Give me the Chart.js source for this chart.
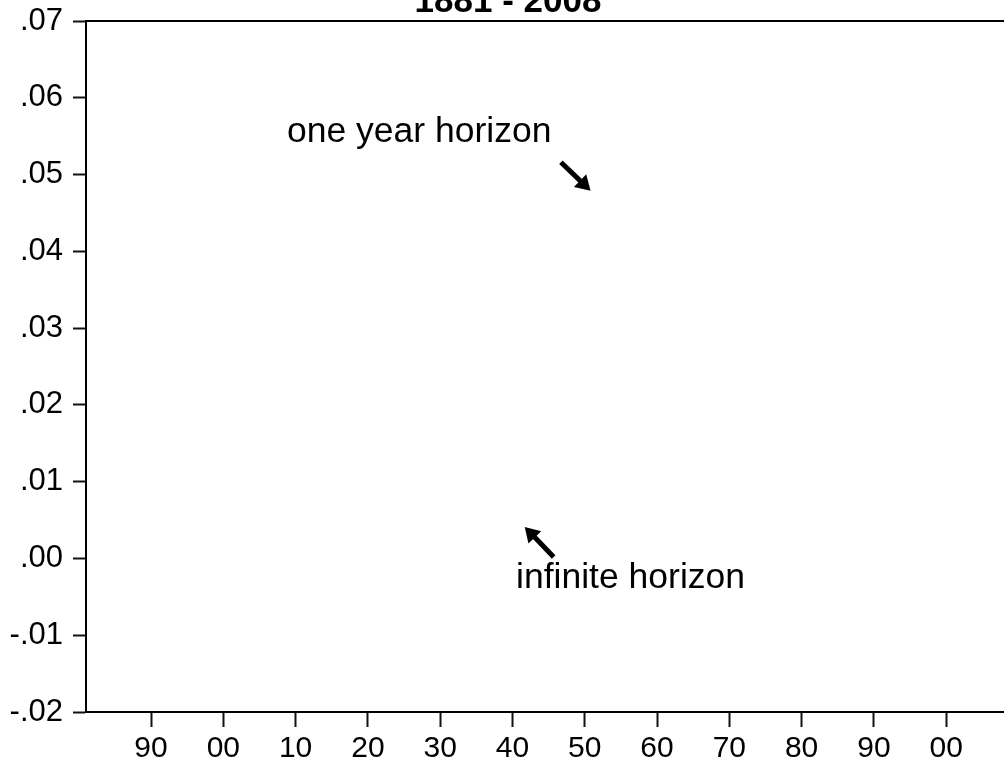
<!DOCTYPE html>
<html>
<head>
<meta charset="utf-8">
<script src="https://cdn.jsdelivr.net/npm/chart.js@4.4.0/dist/chart.umd.min.js"></script>
<style>
  html, body { margin: 0; padding: 0; background: #fff; }
  #wrap { width: 1004px; height: 768px; }
</style>
</head>
<body>
<div id="wrap"><canvas id="c" width="1004" height="768"></canvas></div>
<script>
// sample period and axis ticks
var yearStart = 1881;
var yearEnd = 2008;
var xTicks = [1890, 1900, 1910, 1920, 1930, 1940, 1950, 1960, 1970, 1980, 1990, 2000];
var yTicks = [-0.02, -0.01, 0.00, 0.01, 0.02, 0.03, 0.04, 0.05, 0.06, 0.07];

// series (nothing is visible in the picture)
var oneYearHorizon = [];
var infiniteHorizon = [];

// labels + arrows, in data units [year, value]
var labelOneYear = { text: 'one year horizon', at: [1908.8, 0.0543] };
var labelInfinite = { text: 'infinite horizon', at: [1940.5, -0.0038] };
var arrowOneYear = { from: [1946.7, 0.0516], to: [1950.8, 0.0479] };
var arrowInfinite = { from: [1945.7, 0.0002], to: [1941.7, 0.0041] };

var titleText = '1881 - 2008';
var FONT = "'Liberation Sans', Arial, sans-serif";

function fmtY(v) {
  var s = Math.abs(v).toFixed(2).replace(/^0/, '');
  return (v < -1e-9 ? '-' : '') + s;
}

function drawArrow(ctx, x1, y1, x2, y2) {
  var ang = Math.atan2(y2 - y1, x2 - x1);
  var head = 17;
  ctx.save();
  ctx.strokeStyle = '#000';
  ctx.fillStyle = '#000';
  ctx.lineWidth = 5;
  ctx.beginPath();
  ctx.moveTo(x1, y1);
  ctx.lineTo(x2 - Math.cos(ang) * head * 0.6, y2 - Math.sin(ang) * head * 0.6);
  ctx.stroke();
  ctx.beginPath();
  ctx.moveTo(x2, y2);
  ctx.lineTo(x2 - head * Math.cos(ang - 0.55), y2 - head * Math.sin(ang - 0.55));
  ctx.lineTo(x2 - head * Math.cos(ang + 0.55), y2 - head * Math.sin(ang + 0.55));
  ctx.closePath();
  ctx.fill();
  ctx.restore();
}

var extras = {
  id: 'extras',
  afterDraw: function(chart) {
    var ctx = chart.ctx, xs = chart.scales.x, ys = chart.scales.y, a = chart.chartArea;
    ctx.save();
    // top frame line
    ctx.strokeStyle = '#000';
    ctx.lineWidth = 2;
    ctx.beginPath();
    ctx.moveTo(a.left, a.top);
    ctx.lineTo(a.right, a.top);
    ctx.stroke();

    // title, partly off the top edge
    ctx.fillStyle = '#000';
    ctx.font = 'bold 35px ' + FONT;
    ctx.textAlign = 'center';
    ctx.textBaseline = 'alphabetic';
    ctx.fillText(titleText, 508, 12);

    // labels
    ctx.font = '35.5px ' + FONT;
    ctx.textAlign = 'left';
    [labelOneYear, labelInfinite].forEach(function(l) {
      ctx.fillText(l.text, xs.getPixelForValue(l.at[0]), ys.getPixelForValue(l.at[1]));
    });
    ctx.restore();

    [arrowOneYear, arrowInfinite].forEach(function(ar) {
      drawArrow(ctx,
        xs.getPixelForValue(ar.from[0]), ys.getPixelForValue(ar.from[1]),
        xs.getPixelForValue(ar.to[0]), ys.getPixelForValue(ar.to[1]));
    });
  }
};

new Chart(document.getElementById('c'), {
  type: 'line',
  data: {
    datasets: [
      { label: 'one year horizon', data: oneYearHorizon, borderColor: '#000', borderWidth: 1.5, pointRadius: 0 },
      { label: 'infinite horizon', data: infiniteHorizon, borderColor: '#000', borderWidth: 1.5, pointRadius: 0 }
    ]
  },
  options: {
    responsive: false,
    animation: false,
    layout: { padding: { top: 21, right: 0, left: 0, bottom: 0 } },
    plugins: { legend: { display: false }, tooltip: { enabled: false }, title: { display: false } },
    scales: {
      x: {
        type: 'linear',
        min: yearStart,
        max: yearEnd,
        afterBuildTicks: function(s) { s.ticks = xTicks.map(function(v) { return { value: v }; }); },
        afterFit: function(s) { s.height = 56; s.paddingLeft = 0; s.paddingRight = 0; },
        ticks: {
          color: '#000',
          font: { family: FONT, size: 30 },
          padding: 4,
          maxRotation: 0,
          autoSkip: false,
          callback: function(v) { return String(v % 100).padStart(2, '0'); }
        },
        grid: { drawOnChartArea: false, drawTicks: true, tickLength: 15, tickColor: '#111', tickWidth: 2 },
        border: { display: true, color: '#000', width: 2 }
      },
      y: {
        type: 'linear',
        min: -0.02,
        max: 0.07,
        afterBuildTicks: function(s) { s.ticks = yTicks.map(function(v) { return { value: v }; }); },
        afterFit: function(s) { s.width = 86; s.paddingTop = 0; s.paddingBottom = 0; },
        ticks: {
          color: '#000',
          font: { family: FONT, size: 31 },
          padding: 10,
          autoSkip: false,
          callback: function(v) { return fmtY(v); }
        },
        grid: { drawOnChartArea: false, drawTicks: true, tickLength: 13, tickColor: '#111', tickWidth: 2 },
        border: { display: true, color: '#000', width: 2 }
      }
    }
  },
  plugins: [extras]
});
</script>
</body>
</html>
